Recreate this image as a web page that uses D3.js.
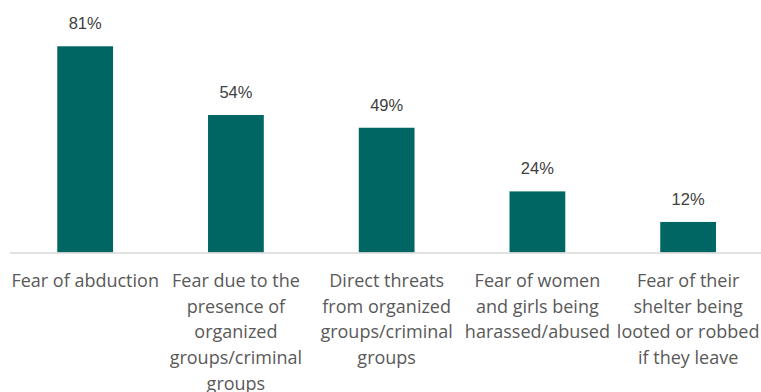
<!DOCTYPE html>
<html>
<head>
<meta charset="utf-8">
<script src="https://cdn.jsdelivr.net/npm/d3@7"></script>
<style>
  html, body { margin: 0; padding: 0; background: #fff; }
  svg { display: block; }
</style>
</head>
<body>
<svg id="chart" width="761" height="392"></svg>
<script>
// Reasons for not leaving: share of respondents (%)
const categories = [
  "Fear of abduction",
  "Fear due to the presence of organized groups/criminal groups",
  "Direct threats from organized groups/criminal groups",
  "Fear of women and girls being harassed/abused",
  "Fear of their shelter being looted or robbed if they leave"
];
const values = [81, 54, 49, 24, 12];
// Wrapped axis labels, one array of lines per category
const labelLines = [
  ["Fear of abduction"],
  ["Fear due to the", "presence of", "organized", "groups/criminal", "groups"],
  ["Direct threats", "from organized", "groups/criminal", "groups"],
  ["Fear of women", "and girls being", "harassed/abused"],
  ["Fear of their", "shelter being", "looted or robbed", "if they leave"]
];

const svg = d3.select("#chart");
const baseY = 252.5;

const x = d3.scaleBand()
  .domain(categories)
  .range([9.8, 763.5])
  .paddingInner(0.63)
  .paddingOuter(0.315);

const y = d3.scaleLinear()
  .domain([0, 100])
  .range([baseY, baseY - 254.6]);

// Bars
svg.append("g")
  .selectAll("rect")
  .data(values)
  .join("rect")
  .attr("x", (d, i) => x(categories[i]))
  .attr("y", d => y(d))
  .attr("width", x.bandwidth())
  .attr("height", d => y(0) - y(d))
  .attr("fill", "#006663");

// Baseline axis
svg.append("line")
  .attr("x1", 10).attr("x2", 761)
  .attr("y1", baseY + 0.5).attr("y2", baseY + 0.5)
  .attr("stroke", "#d9d9d9")
  .attr("stroke-width", 1.3);

// Value labels
svg.append("g")
  .selectAll("text")
  .data(values)
  .join("text")
  .attr("x", (d, i) => x(categories[i]) + x.bandwidth() / 2)
  .attr("y", d => y(d) - 17)
  .attr("text-anchor", "middle")
  .attr("font-family", "'Liberation Sans', Arial, sans-serif")
  .attr("font-size", 16.5)
  .attr("fill", "#404040")
  .text(d => d + "%");

// Category labels
const lab = svg.append("g")
  .selectAll("text")
  .data(labelLines)
  .join("text")
  .attr("text-anchor", "middle")
  .attr("font-family", "'Open Sans', sans-serif")
  .attr("font-size", 18)
  .attr("fill", "#595959")
  .attr("transform", (d, i) => `translate(${x(categories[i]) + x.bandwidth() / 2},287)`);

lab.selectAll("tspan")
  .data(d => d)
  .join("tspan")
  .attr("x", 0)
  .attr("y", (d, j) => j * 25.7)
  .text(d => d);
</script>
</body>
</html>
